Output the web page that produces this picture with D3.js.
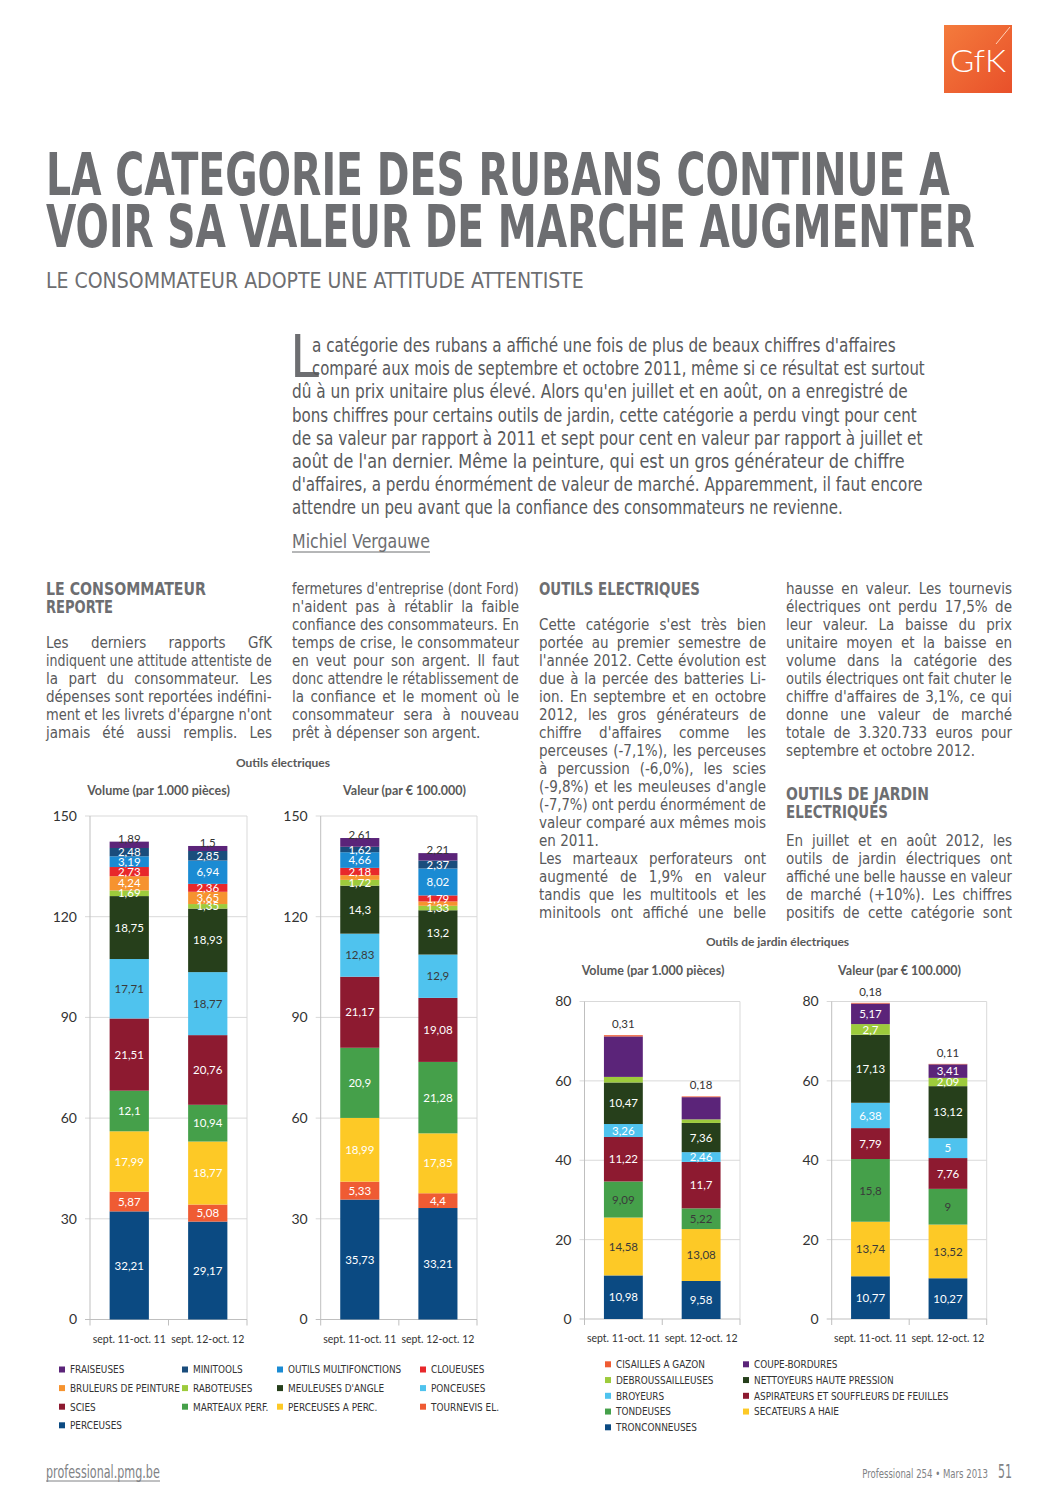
<!DOCTYPE html>
<html><head><meta charset="utf-8">
<script src="https://cdn.jsdelivr.net/npm/d3@7"></script>
<style>
html,body{margin:0;padding:0;background:#fff;}
svg{display:block;}
</style></head><body>
<svg id="page" width="1058" height="1496"></svg>
<script>
// ---------------- DATA ----------------
const periods = ["sept. 11-oct. 11", "sept. 12-oct. 12"];

// Outils électriques (bottom -> top of stack)
const elecSeries = ["PERCEUSES","TOURNEVIS EL.","PERCEUSES A PERC.","MARTEAUX PERF.","SCIES","PONCEUSES","MEULEUSES D'ANGLE","RABOTEUSES","BRULEURS DE PEINTURE","CLOUEUSES","OUTILS MULTIFONCTIONS","MINITOOLS","FRAISEUSES"];
const elecVolume2011 = [32.21,5.87,17.99,12.1,21.51,17.71,18.75,1.69,4.24,2.73,3.19,2.48,1.89];
const elecVolume2012 = [29.17,5.08,18.77,10.94,20.76,18.77,18.93,1.35,3.65,2.36,6.94,2.85,1.5];
const elecValue2011  = [35.73,5.33,18.99,20.9,21.17,12.83,14.3,1.72,1.4,2.18,4.66,1.62,2.61];
const elecValue2012  = [33.21,4.4,17.85,21.28,19.08,12.9,13.2,1.33,1.3,1.79,8.02,2.37,2.21];
const elecTicks = [0,30,60,90,120,150];

// Outils de jardin électriques (bottom -> top of stack)
const gardenSeries = ["TRONCONNEUSES","SECATEURS A HAIE","TONDEUSES","ASPIRATEURS ET SOUFFLEURS DE FEUILLES","BROYEURS","NETTOYEURS HAUTE PRESSION","DEBROUSSAILLEUSES","COUPE-BORDURES","CISAILLES A GAZON"];
const gardenVolume2011 = [10.98,14.58,9.09,11.22,3.26,10.47,1.4,10.2,0.31];
const gardenVolume2012 = [9.58,13.08,5.22,11.7,2.46,7.36,0.9,5.6,0.18];
const gardenValue2011  = [10.77,13.74,15.8,7.79,6.38,17.13,2.7,5.17,0.18];
const gardenValue2012  = [10.27,13.52,9,7.76,5,13.12,2.09,3.41,0.11];
const gardenTicks = [0,20,40,60,80];

// ---------------- TEXT ----------------
const titleLines = ["LA CATEGORIE DES RUBANS CONTINUE A","VOIR SA VALEUR DE MARCHE AUGMENTER"];
const subtitle = "LE CONSOMMATEUR ADOPTE UNE ATTITUDE ATTENTISTE";
const introLines = [
 "a catégorie des rubans a affiché une fois de plus de beaux chiffres d'affaires",
 "comparé aux mois de septembre et octobre 2011, même si ce résultat est surtout",
 "dû à un prix unitaire plus élevé. Alors qu'en juillet et en août, on a enregistré de",
 "bons chiffres pour certains outils de jardin, cette catégorie a perdu vingt pour cent",
 "de sa valeur par rapport à 2011 et sept pour cent en valeur par rapport à juillet et",
 "août de l'an dernier. Même la peinture, qui est un gros générateur de chiffre",
 "d'affaires, a perdu énormément de valeur de marché. Apparemment, il faut encore",
 "attendre un peu avant que la confiance des consommateurs ne revienne."
];
const author = "Michiel Vergauwe";
const col1Head = ["LE CONSOMMATEUR","REPORTE"];
const col1Lines = ["Les derniers rapports GfK","indiquent une attitude attentiste de","la part du consommateur. Les","dépenses sont reportées indéfini-","ment et les livrets d'épargne n'ont","jamais été aussi remplis. Les"];
const col2Lines = ["fermetures d'entreprise (dont Ford)","n'aident pas à rétablir la faible","confiance des consommateurs. En","temps de crise, le consommateur","en veut pour son argent. Il faut","donc attendre le rétablissement de","la confiance et le moment où le","consommateur sera à nouveau","prêt à dépenser son argent."];
const col3Head = ["OUTILS ELECTRIQUES"];
const col3Lines = ["Cette catégorie s'est très bien","portée au premier semestre de","l'année 2012. Cette évolution est","due à la percée des batteries Li-","ion. En septembre et en octobre","2012, les gros générateurs de","chiffre d'affaires comme les","perceuses (-7,1%), les perceuses","à percussion (-6,0%), les scies","(-9,8%) et les meuleuses d'angle","(-7,7%) ont perdu énormément de","valeur comparé aux mêmes mois","en 2011.","Les marteaux perforateurs ont","augmenté de 1,9% en valeur","tandis que les multitools et les","minitools ont affiché une belle"];
const col4LinesA = ["hausse en valeur. Les tournevis","électriques ont perdu 17,5% de","leur valeur. La baisse du prix","unitaire moyen et la baisse en","volume dans la catégorie des","outils électriques ont fait chuter le","chiffre d'affaires de 3,1%, ce qui","donne une valeur de marché","totale de 3.320.733 euros pour","septembre et octobre 2012."];
const col4Head = ["OUTILS DE JARDIN","ELECTRIQUES"];
const col4LinesB = ["En juillet et en août 2012, les","outils de jardin électriques ont","affiché une belle hausse en valeur","de marché (+10%). Les chiffres","positifs de cette catégorie sont"];

// ---------------- SETUP ----------------
const NARROW = "'Liberation Sans Narrow','DejaVu Sans Condensed','Arial Narrow',sans-serif";
const SANS = "Lato,'Open Sans',sans-serif";
const GREY = "#5f6062";
const svg = d3.select("#page");
svg.append("rect").attr("width",1058).attr("height",1496).attr("fill","#fff");

// Text helper: `width` scales the glyphs horizontally to a target width,
// `justify` spreads words to fill a target width (scales down if too long).
function txt(parent, x, y, str, o) {
  const t = parent.append("text").text(str)
    .attr("font-family", o.family || NARROW).attr("font-size", o.size)
    .attr("fill", o.fill || GREY).attr("font-weight", o.weight || "normal")
    .attr("text-anchor", o.anchor || "start");
  const nat = t.node().getComputedTextLength();
  let s = 1;
  if (o.width) s = o.width / nat;
  if (o.justify) {
    const n = (str.match(/ /g) || []).length;
    if (nat < o.justify && n > 0) t.style("word-spacing", ((o.justify - nat) / n) + "px");
    else s = o.justify / nat;
  }
  t.attr("transform", `translate(${x},${y}) scale(${s},1)`);
  return t;
}

// ---------------- LOGO ----------------
const defs = svg.append("defs");
const lg = defs.append("linearGradient").attr("id","gfk").attr("x1","0").attr("y1","0").attr("x2","1").attr("y2","1");
lg.append("stop").attr("offset","0").attr("stop-color","#f47b3c");
lg.append("stop").attr("offset","1").attr("stop-color","#e8502a");
svg.append("rect").attr("x",944).attr("y",25).attr("width",68).attr("height",68).attr("fill","url(#gfk)");
svg.append("line").attr("x1",996).attr("y1",44).attr("x2",1010).attr("y2",27).attr("stroke","#ffd2b8").attr("stroke-width",1);
txt(svg, 950, 72, "GfK", {size:32, family:SANS, fill:"#fff", weight:300, width:56});

// ---------------- TITLES ----------------
txt(svg, 46, 195, titleLines[0], {size:58, weight:"bold", fill:"#6d6e71", width:904});
txt(svg, 46, 247, titleLines[1], {size:58, weight:"bold", fill:"#6d6e71", width:929});
txt(svg, 46, 288, subtitle, {size:22, fill:"#6d6e71", width:538});

// ---------------- INTRO ----------------
txt(svg, 290, 377, "L", {size:58, fill:"#6d6e71", weight:300});
const introX = [312,312,292,292,292,292,292,292];
const introEnd = [896,925,908,917,923,905,923,843];
introLines.forEach((l,i) => txt(svg, introX[i], 352 + i*23.2, l, {size:19, fill:"#58595b", width: introEnd[i]-introX[i]}));
txt(svg, 292, 548, author, {size:19, fill:"#6d6e71", width:138});
svg.append("line").attr("x1",292).attr("x2",430).attr("y1",552).attr("y2",552).attr("stroke","#6d6e71").attr("stroke-width",1);

// ---------------- BODY COLUMNS ----------------
function column(x, w, y, lines, lastLines) {
  lines.forEach((l,i) => {
    const yy = y + i*18;
    if (lastLines && lastLines.includes(i)) txt(svg, x, yy, l, {size:15, fill:"#58595b"});
    else txt(svg, x, yy, l, {size:15, fill:"#58595b", justify:w});
  });
}
function heading(x, y, lines, widths) {
  lines.forEach((l,i) => txt(svg, x, y + i*18, l, {size:18, weight:"bold", fill:"#6d6e71", width:widths[i]}));
}
heading(46, 595, col1Head, [160, 67]);
column(46, 226, 648, col1Lines);
column(292, 227, 594, col2Lines, [8]);
heading(539, 595, col3Head, [161]);
column(539, 227, 630, col3Lines, [12]);
column(786, 226, 594, col4LinesA, [9]);
heading(786, 800, col4Head, [143, 102]);
column(786, 226, 846, col4LinesB);

// ---------------- CHARTS ----------------
const elecColors = {
  "PERCEUSES":"#0b4a82","TOURNEVIS EL.":"#ef5b33","PERCEUSES A PERC.":"#fdc926","MARTEAUX PERF.":"#45a04a",
  "SCIES":"#8d1a30","PONCEUSES":"#4fc3ee","MEULEUSES D'ANGLE":"#263f1b","RABOTEUSES":"#9dcb3c",
  "BRULEURS DE PEINTURE":"#f6932f","CLOUEUSES":"#e8282b","OUTILS MULTIFONCTIONS":"#1b8bd3","MINITOOLS":"#1a4d7c","FRAISEUSES":"#5b2479"
};
const gardenColors = {
  "TRONCONNEUSES":"#0b4a82","SECATEURS A HAIE":"#fdc926","TONDEUSES":"#45a04a","ASPIRATEURS ET SOUFFLEURS DE FEUILLES":"#8d1a30",
  "BROYEURS":"#4fc3ee","NETTOYEURS HAUTE PRESSION":"#263f1b","DEBROUSSAILLEUSES":"#9dcb3c","COUPE-BORDURES":"#5b2479","CISAILLES A GAZON":"#ef5b33"
};
const fmt = v => String(v).replace(".", ",");

function stackChart(cfg) {
  const g = svg.append("g");
  const {left, right, y0, yTop, ticks, series, rows, colors, dark, hidden, topOffset} = cfg;
  const max = ticks[ticks.length-1];
  const x = d3.scaleBand().domain(periods).range([left, right]).paddingInner(0.5).paddingOuter(0.25);
  const y = d3.scaleLinear().domain([0, max]).range([y0, yTop]);
  g.selectAll("line.grid").data(ticks.filter(t => t > 0)).join("line")
    .attr("x1", left - 5).attr("x2", right).attr("y1", d => y(d)).attr("y2", d => y(d))
    .attr("stroke", "#d9d9d9").attr("stroke-width", 1);
  g.append("line").attr("x1", right).attr("x2", right).attr("y1", y(max)).attr("y2", y0).attr("stroke", "#d9d9d9");
  g.append("line").attr("x1", left).attr("x2", left).attr("y1", y(max)).attr("y2", y0).attr("stroke", "#bfbfbf");
  g.append("line").attr("x1", left - 5).attr("x2", right).attr("y1", y0).attr("y2", y0).attr("stroke", "#bfbfbf");
  [left, (left + right) / 2, right].forEach(xx =>
    g.append("line").attr("x1", xx).attr("x2", xx).attr("y1", y0).attr("y2", y0 + 6).attr("stroke", "#bfbfbf"));
  g.selectAll("text.yt").data(ticks).join("text")
    .attr("x", left - 13).attr("y", d => y(d)).attr("dy", "0.35em").attr("text-anchor", "end")
    .attr("font-family", SANS).attr("font-size", 14).attr("fill", "#333").text(d => d);
  g.selectAll("text.xt").data(periods).join("text")
    .attr("x", d => x(d) + x.bandwidth() / 2).attr("y", y0 + 23).attr("text-anchor", "middle")
    .attr("font-family", SANS).attr("font-size", 10.5).attr("fill", "#333").text(d => d);
  const table = periods.map((p, i) => { const o = {period: p}; series.forEach((s, j) => o[s] = rows[i][j]); return o; });
  const layers = d3.stack().keys(series)(table);
  const lay = g.selectAll("g.layer").data(layers).join("g").attr("fill", d => colors[d.key]);
  lay.selectAll("rect").data(d => d).join("rect")
    .attr("x", d => x(d.data.period)).attr("width", x.bandwidth())
    .attr("y", d => y(d[1])).attr("height", d => y(d[0]) - y(d[1]));
  layers.forEach((L, li) => {
    const isTop = li === layers.length - 1;
    L.forEach((d, pi) => {
      if (hidden.some(h => h[0] === L.key && h[1] === pi)) return;
      const val = d[1] - d[0];
      const cx = x(d.data.period) + x.bandwidth() / 2;
      const t = g.append("text").attr("x", cx).attr("text-anchor", "middle")
        .attr("font-family", SANS).attr("font-size", 11.5).text(fmt(+val.toFixed(2)));
      if (isTop) {
        t.attr("y", y(d[1]) + topOffset).attr("fill", "#333");
      } else {
        t.attr("y", (y(d[0]) + y(d[1])) / 2).attr("dy", "0.36em")
         .attr("fill", dark.includes(L.key) ? "#3a3a3a" : "#fff");
      }
    });
  });
}

function legend(x0s, yStart, dy, cols, series, colors) {
  const items = series.slice().reverse();
  const g = svg.append("g");
  items.forEach((s, i) => {
    const c = i % cols, r = Math.floor(i / cols);
    const yy = yStart + r * dy;
    g.append("rect").attr("x", x0s[c]).attr("y", yy - 3).attr("width", 6).attr("height", 6).attr("fill", colors[s]);
    g.append("text").attr("transform", `translate(${x0s[c] + 11},${yy}) scale(0.9,1)`).attr("dy", "0.35em")
      .attr("font-family", NARROW).attr("font-size", 11).attr("fill", "#333").text(s);
  });
}

const ct = (x, y, s, size) => txt(svg, x, y, s, {size: size, family: SANS, weight: "bold", fill: "#595959", anchor: "middle"});
ct(283, 767, "Outils électriques", 12);
ct(158.5, 795, "Volume (par 1.000 pièces)", 12.5);
ct(404.5, 795, "Valeur (par € 100.000)", 12.5);
ct(777.5, 946, "Outils de jardin électriques", 12);
ct(653, 975, "Volume (par 1.000 pièces)", 12.5);
ct(899.5, 975, "Valeur (par € 100.000)", 12.5);

const elecDark = ["PONCEUSES"];
stackChart({left:90, right:247, y0:1319.5, yTop:816, ticks:elecTicks, series:elecSeries,
  rows:[elecVolume2011, elecVolume2012], colors:elecColors, dark:elecDark, hidden:[], topOffset:1});
stackChart({left:320.7, right:477, y0:1319.5, yTop:816, ticks:elecTicks, series:elecSeries,
  rows:[elecValue2011, elecValue2012], colors:elecColors, dark:elecDark,
  hidden:[["BRULEURS DE PEINTURE",0],["BRULEURS DE PEINTURE",1]], topOffset:1});
const gardenDark = ["SECATEURS A HAIE","TONDEUSES"];
stackChart({left:584.5, right:740, y0:1319, yTop:1001.5, ticks:gardenTicks, series:gardenSeries,
  rows:[gardenVolume2011, gardenVolume2012], colors:gardenColors, dark:gardenDark,
  hidden:[["DEBROUSSAILLEUSES",0],["DEBROUSSAILLEUSES",1],["COUPE-BORDURES",0],["COUPE-BORDURES",1]], topOffset:-7});
stackChart({left:831.7, right:986.7, y0:1319, yTop:1001.5, ticks:gardenTicks, series:gardenSeries,
  rows:[gardenValue2011, gardenValue2012], colors:gardenColors, dark:gardenDark, hidden:[], topOffset:-7});

legend([59, 182, 277, 420], 1369.5, 18.6, 4, elecSeries, elecColors);
legend([605, 743], 1364.3, 15.75, 2, gardenSeries, gardenColors);

// ---------------- FOOTER ----------------
txt(svg, 46, 1478, "professional.pmg.be", {size:17, fill:"#808285", width:114});
svg.append("line").attr("x1",46).attr("x2",160).attr("y1",1481).attr("y2",1481).attr("stroke","#808285");
txt(svg, 988, 1478, "Professional 254 • Mars 2013", {size:12.5, fill:"#808285", anchor:"end", width:126});
txt(svg, 998, 1478, "51", {size:19, fill:"#808285", width:14});
</script></body></html>
